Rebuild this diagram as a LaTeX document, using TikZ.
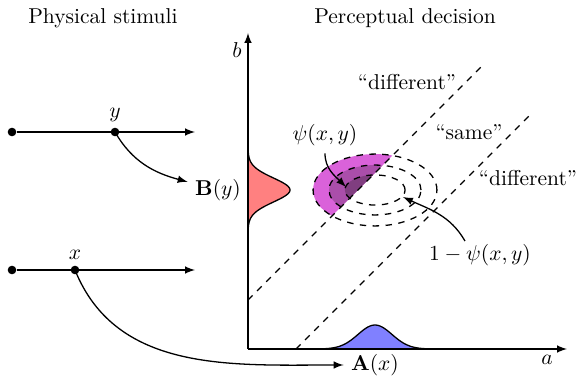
\documentclass[tikz,border=0pt]{standalone}
\usepackage{amsmath,amssymb}
\usepackage{tikz}
\usetikzlibrary{arrows.meta, positioning, arrows}
\definecolor{outerpsi}{RGB}{218,98,218}
\definecolor{midpsi}{RGB}{170,78,170}
\definecolor{innerpsi}{RGB}{128,62,128}
\tikzstyle{dot}     = [circle, fill=black, inner sep=0pt, minimum size=4pt]
\tikzstyle{axis}    = [semithick, ->, >=latex]
\tikzstyle{arrow}   = [semithick, ->, >=latex]
\tikzstyle{bound}   = [semithick, dashed]
\tikzstyle{contour} = [semithick, dashed]

\begin{document}
\begin{tikzpicture}[x=0.465pt, y=0.465pt]
    \useasboundingbox (-248,-31) rectangle (328,349);

    \node (phys) at (-145,331) {Physical stimuli};
    \node (perc) at (157,331)  {Perceptual decision};

    \coordinate (origin) at (0,0);
    \coordinate (aend) at (319,0);
    \coordinate (bend) at (0,316);

    \begin{scope}
        \clip (0,49) -- (240,289) -- (0,289) -- cycle;
        \fill [outerpsi] (127,159) ellipse (28.8pt and 16.7pt);
        \fill [midpsi]   (127,159) ellipse (21.4pt and 11.6pt);
        \fill [innerpsi] (127,159) ellipse (14pt and 7pt);
    \end{scope}
    \draw [contour] (127,159) ellipse (28.8pt and 16.7pt);
    \draw [contour] (127,159) ellipse (21.4pt and 11.6pt);
    \draw [contour] (127,159) ellipse (14pt and 7pt);

    \draw [semithick, fill=red!50] plot[domain=-40:40, samples=60] ({42*exp(-(\x/12)^2/2)}, {159+\x});
    \draw [semithick, fill=blue!50] plot[domain=-62:62, samples=60] ({127+\x}, {24*exp(-(\x/17)^2/2)});

    \draw [bound] (0,49) -- (236,285);
    \draw [bound] (48,0) -- (283,235);

    \draw [axis] (origin) -- (bend);
    \draw [axis] (origin) -- (aend);
    \node (blabel) at (-11,299) {$b$};
    \node (alabel) at (299,-11) {$a$};

    \node (diff1) at (159,267) {``different''};
    \node (same)  at (221,217) {``same''};
    \node (diff2) at (280,171) {``different''};

    \node (psi)    at (77,214)  {$\psi(x,y)$};
    \node (notpsi) at (232,94)  {$1-\psi(x,y)$};
    \coordinate (psiin)     at (98,162);
    \coordinate (notpsiout) at (217,108);
    \coordinate (notpsiin)  at (155,152);
    \draw [arrow] (psi) to[out=-90, in=135] (psiin);
    \draw [arrow] (notpsiout) to[out=120, in=-25] (notpsiin);

    \node (ystart) [dot] at (-236,217) {};
    \node (yend)   at (-53,217) {};
    \node (ydot)   [dot] at (-133,217) {};
    \node (ylabel) [above=-1pt of ydot] {$y$};
    \draw [arrow] (ystart) -- (yend.center);

    \node (xstart) [dot] at (-236,79) {};
    \node (xend)   at (-53,79) {};
    \node (xdot)   [dot] at (-173,79) {};
    \node (xlabel) [above=-1pt of xdot] {$x$};
    \draw [arrow] (xstart) -- (xend.center);

    \node (By) at (-30,159) {$\mathbf{B}(y)$};
    \node (Ax) at (127,-16) {$\mathbf{A}(x)$};
    \draw [arrow] (ydot.center) to[out=-60, in=165] (By);
    \draw [arrow] (xdot.center) to[out=-68, in=180] (Ax);
\end{tikzpicture}
\end{document}
